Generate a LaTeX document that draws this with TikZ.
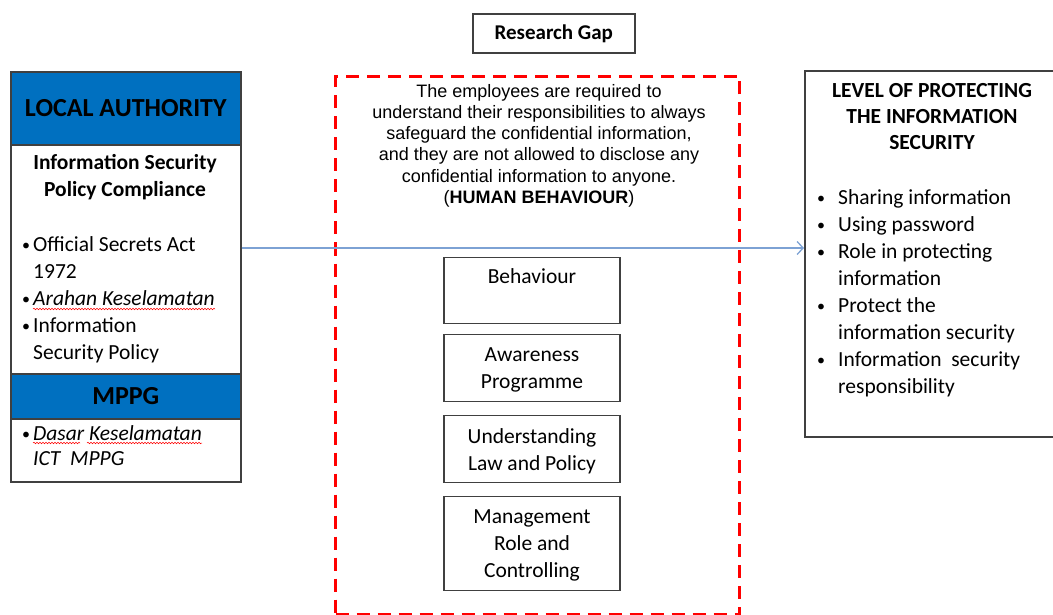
\documentclass[tikz,border=0pt]{standalone}
\usepackage{fontspec}
\setmainfont{Carlito}
\newfontfamily\arialfont{Liberation Sans}
\usetikzlibrary{arrows.meta,decorations.pathmorphing}

\definecolor{hdrblue}{HTML}{0070C0}
\definecolor{framegray}{HTML}{404040}
\definecolor{linkblue}{HTML}{7DA2D4}

\tikzset{
  frame/.style={draw=framegray, line width=1.6pt, inner sep=0pt},
  hdr/.style={frame, fill=hdrblue, font=\fontsize{26}{30}\selectfont\bfseries},
  body/.style={inner sep=0pt, font=\fontsize{21.5}{27}\selectfont},
  bodybold/.style={inner sep=0pt, font=\fontsize{21.5}{26.5}\selectfont\bfseries},
  gapline/.style={draw=red, line width=3pt, dash pattern=on 13pt off 8pt, inner sep=0pt},
  gaptext/.style={inner sep=0pt, font=\arialfont\fontsize{18}{21.3}\selectfont},
  ibox/.style={frame, line width=1.4pt, minimum width=176pt, anchor=north},
  spell/.style={draw=red, line width=0.5pt, decorate,
    decoration={snake, amplitude=0.8pt, segment length=3pt}},
  link/.style={draw=linkblue, line width=1.3pt,
    -{Straight Barb[length=6pt, width=13pt, line width=1.3pt]}}
}
% small bullet: indent before it, total width of bullet column
\newcommand{\bl}[2]{\makebox[#2][l]{\hspace*{#1}\raisebox{1pt}{\fontsize{16}{16}\selectfont•}}}

\begin{document}
\begin{tikzpicture}[x=1pt, y=-1pt]
\useasboundingbox (0,0) rectangle (1053,615);

% title box
\node[frame, minimum width=162pt, minimum height=39pt, anchor=north west,
      font=\fontsize{21pt}{26}\selectfont\bfseries] (rg) at (472,13) {Research Gap};

% left column: local authority and MPPG
\node[hdr, minimum width=230pt, minimum height=73pt, anchor=north west] (la) at (10,71) {LOCAL AUTHORITY};
\node[frame, minimum width=230pt, minimum height=229pt, anchor=north west] (lbody) at (10,144) {};
\node[hdr, minimum width=230pt, minimum height=45pt, anchor=north west] (mppg) at (10,373) {MPPG};
\node[frame, minimum width=230pt, minimum height=63pt, anchor=north west] (mbody) at (10,418) {};

% (multi-line nodes are placed by the baseline of their last line)
\node[bodybold, align=center, anchor=base] (lbtitle) at (125,196.5)
  {Information Security\\Policy Compliance};
\node[body, align=left, anchor=base west] (lblist) at (21,359)
  {\bl{1pt}{12pt}Official Secrets Act\\\hspace*{12pt}1972\\
   \bl{1pt}{12pt}\textit{Arahan Keselamatan}\\
   \bl{1pt}{12pt}Information\\\hspace*{12pt}Security Policy};
\node[body, font=\fontsize{21.5}{25}\selectfont, align=left, anchor=base west] (mblist) at (21,465)
  {\bl{1pt}{12pt}\textit{Dasar Keselamatan}\\\hspace*{12pt}\textit{ICT\ \ MPPG}};

% spell-check marks
\draw[spell] (33,309) -- (215,309);
\draw[spell] (33,443) -- (80,443);
\draw[spell] (87,443) -- (202,443);

% research gap frame
\node[gapline, minimum width=404pt, minimum height=538pt, anchor=north west] (gap) at (334,75) {};
\node[gaptext, align=center, anchor=base] (gaptxt) at (539,203.5)
  {The employees are required to\\
   understand their responsibilities to always\\
   safeguard the confidential information,\\
   and they are not allowed to disclose any\\
   confidential information to anyone.\\
   (\textbf{HUMAN BEHAVIOUR})};

% factor boxes
\node[ibox, minimum height=66pt] (b1) at (532,257) {};
\node[ibox, minimum height=67pt] (b2) at (532,334) {};
\node[ibox, minimum height=67pt] (b3) at (532,415) {};
\node[ibox, minimum height=94pt] (b4) at (532,496) {};
\node[body, anchor=base] (t1) at (532,283) {Behaviour};
\node[body, align=center, anchor=base] (t2) at (532,388) {Awareness\\Programme};
\node[body, align=center, anchor=base] (t3) at (532,470) {Understanding\\Law and Policy};
\node[body, align=center, anchor=base] (t4) at (532,577) {Management\\Role and\\Controlling};

% right column: level of protection
\node[frame, minimum width=262pt, minimum height=366pt, anchor=north west] (lvl) at (804,70) {};
\node[bodybold, align=center, anchor=base] (lvltitle) at (932,150)
  {LEVEL OF PROTECTING\\THE INFORMATION\\SECURITY};
\node[body, align=left, anchor=base west] (lvllist) at (807,393)
  {\bl{10pt}{31pt}Sharing information\\
   \bl{10pt}{31pt}Using password\\
   \bl{10pt}{31pt}Role in protecting\\\hspace*{31pt}information\\
   \bl{10pt}{31pt}Protect the\\\hspace*{31pt}information security\\
   \bl{10pt}{31pt}Information\ \ security\\\hspace*{31pt}responsibility};

% connector
\coordinate (ay) at (0,248);
\draw[link] (lbody.east |- ay) -- (lvl.west |- ay);

\end{tikzpicture}
\end{document}
